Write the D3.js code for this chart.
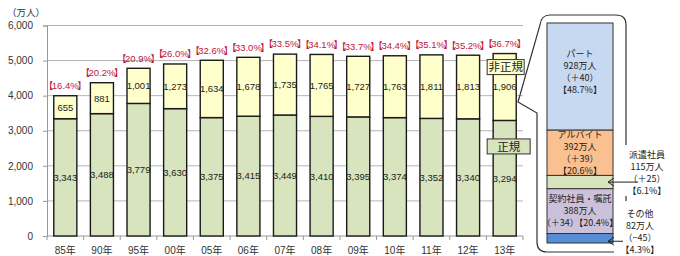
<!DOCTYPE html>
<html><head><meta charset="utf-8">
<script src="https://cdn.jsdelivr.net/npm/d3@7"></script>
<style>
body{margin:0;background:#fff;}
text{font-family:"Liberation Sans","Noto Sans CJK JP",sans-serif;}
.jp{font-family:"Noto Sans CJK JP",sans-serif;}
</style></head>
<body>
<script>
// ---- data ----
const years = ["85年","90年","95年","00年","05年","06年","07年","08年","09年","10年","11年","12年","13年"];
const regular = [3343,3488,3779,3630,3375,3415,3449,3410,3395,3374,3352,3340,3294];
const nonRegular = [655,881,1001,1273,1634,1678,1735,1765,1727,1763,1811,1813,1906];
const nonRegularShare = ["16.4%","20.2%","20.9%","26.0%","32.6%","33.0%","33.5%","34.1%","33.7%","34.4%","35.1%","35.2%","36.7%"];
const yTicks = [0,1000,2000,3000,4000,5000,6000];
const unitLabel = "（万人）";
const seriesNames = ["正規","非正規"];

const breakdownNames = ["パート","アルバイト","派遣社員","契約社員・嘱託","その他"];
const breakdownValues = [928,392,115,388,82];
const breakdownChange = ["＋40","＋39","＋25","＋34","−45"];
const breakdownShare = ["48.7%","20.6%","6.1%","20.4%","4.3%"];
const breakdownColors = ["#c6d9f1","#fac090","#d7e4bd","#ccc1da","#558ed5"];

const colReg = "#d7e4bd", colNon = "#ffffcc", colPct = "#c0143c";

const svg = d3.select("body").append("svg").attr("width",680).attr("height",256);

const x = d3.scaleBand().domain(years).range([47,523]).paddingInner(0.37).paddingOuter(0.185);
const y = d3.scaleLinear().domain([0,6000]).range([236,25.5]);

// gridlines
svg.append("g").selectAll("line").data(yTicks.filter(d=>d>0)).join("line")
  .attr("x1",47).attr("x2",523).attr("y1",d=>y(d)).attr("y2",d=>y(d))
  .attr("stroke","#b5b5b5").attr("stroke-width",1);

// y axis
const ya = svg.append("g").attr("transform","translate(47,0)")
  .call(d3.axisLeft(y).tickValues(yTicks).tickSize(4).tickPadding(10).tickFormat(d3.format(",")));
ya.select(".domain").attr("stroke","#999");
ya.selectAll(".tick line").attr("stroke","#999");
ya.selectAll("text").attr("font-size",10).attr("fill","#333").attr("font-family","Liberation Sans");

svg.append("text").attr("class","jp").attr("x",7).attr("y",16).attr("font-size",9.5).attr("fill","#333").text(unitLabel);

// x axis
svg.append("line").attr("x1",47).attr("x2",523).attr("y1",y(0)).attr("y2",y(0)).attr("stroke","#999");
svg.append("g").selectAll("line").data(d3.range(years.length+1)).join("line")
  .attr("x1",i=>47+i*x.step()).attr("x2",i=>47+i*x.step())
  .attr("y1",y(0)).attr("y2",y(0)+4).attr("stroke","#999");
svg.append("g").selectAll("text").data(years).join("text")
  .attr("x",d=>x(d)+x.bandwidth()/2).attr("y",254).attr("text-anchor","middle")
  .attr("font-size",10).attr("fill","#333").text(d=>d);

// bars
const data = years.map((yr,i)=>({yr,reg:regular[i],non:nonRegular[i],share:nonRegularShare[i]}));
const g = svg.append("g");
g.selectAll("rect.reg").data(data).join("rect").attr("class","reg")
  .attr("x",d=>x(d.yr)).attr("width",x.bandwidth())
  .attr("y",d=>y(d.reg)).attr("height",d=>y(0)-y(d.reg))
  .attr("fill",colReg).attr("stroke","#1a1a1a").attr("stroke-width",1.4);
g.selectAll("rect.non").data(data).join("rect").attr("class","non")
  .attr("x",d=>x(d.yr)).attr("width",x.bandwidth())
  .attr("y",d=>y(d.reg+d.non)).attr("height",d=>y(d.reg)-y(d.reg+d.non))
  .attr("fill",colNon).attr("stroke","#1a1a1a").attr("stroke-width",1.4);

const fmt = d3.format(",");
g.selectAll("text.rv").data(data).join("text").attr("class","rv")
  .attr("x",d=>x(d.yr)+x.bandwidth()/2).attr("y",d=>(y(0)+y(d.reg))/2).attr("dy","0.35em")
  .attr("text-anchor","middle").attr("font-size",9.5).attr("fill","#222").text(d=>fmt(d.reg));
g.selectAll("text.nv").data(data).join("text").attr("class","nv")
  .attr("x",d=>x(d.yr)+x.bandwidth()/2).attr("y",d=>(y(d.reg)+y(d.reg+d.non))/2).attr("dy","0.35em")
  .attr("text-anchor","middle").attr("font-size",9.5).attr("fill","#222").text(d=>fmt(d.non));
const pc = g.selectAll("text.pc").data(data).join("text").attr("class","pc")
  .attr("x",d=>x(d.yr)+x.bandwidth()/2).attr("y",d=>y(d.reg+d.non)-10).attr("dy","0.35em")
  .attr("text-anchor","middle").attr("font-size",9.5).attr("fill",colPct);
pc.append("tspan").text("【");
pc.append("tspan").attr("dx",-1.5).text(d=>d.share);
pc.append("tspan").attr("dx",-1.5).text("】");

// series label boxes on last bar
const last = data[data.length-1];
const lx = x(last.yr)-6;
function tagBox(label, top, w, fill){
  svg.append("rect").attr("x",lx).attr("y",top).attr("width",w).attr("height",15)
    .attr("fill",fill).attr("stroke","#333").attr("stroke-width",1);
  svg.append("text").attr("class","jp").attr("x",lx+w/2).attr("y",top+7.5).attr("dy","0.36em")
    .attr("text-anchor","middle").attr("font-size",11.5).attr("fill","#222").text(label);
}
tagBox(seriesNames[1], y(last.reg+last.non)+6, 37, colNon);
tagBox(seriesNames[0], y(last.reg)+18.5, 43, colReg);

// ---- breakdown panel ----
const px0 = 547, pw = 66;
const total = d3.sum(breakdownValues);
const pY = d3.scaleLinear().domain([0,total]).range([23,243]);
let cum = 0;
const segs = breakdownValues.map((v,i)=>{const s={i,v,start:cum,end:cum+v}; cum+=v; return s;});

// callout outline
svg.append("path").attr("fill","none").attr("stroke","#333").attr("stroke-width",1.2)
  .attr("d","M626,145 L626,25 Q626,15 616,15 L550,15 Q541,15 540,25 L518,102 L537,113 L537,242 Q537,252 547,252 L614,252");
svg.append("line").attr("x1",626).attr("x2",626).attr("y1",196).attr("y2",201).attr("stroke","#333").attr("stroke-width",1.2);

const pg = svg.append("g");
pg.selectAll("rect").data(segs).join("rect")
  .attr("x",px0).attr("width",pw).attr("y",d=>pY(d.start)).attr("height",d=>pY(d.end)-pY(d.start))
  .attr("fill",d=>breakdownColors[d.i]).attr("stroke","#333").attr("stroke-width",1);

const lh = 12;
segs.forEach(s=>{
  const i = s.i;
  let lines = [breakdownNames[i], breakdownValues[i]+"万人", "（"+breakdownChange[i]+"）", "【"+breakdownShare[i]+"】"];
  const mid = (pY(s.start)+pY(s.end))/2;
  let cx = px0+pw/2, cy = mid, inside = true;
  if (breakdownValues[i] < 200) { inside = false; }
  if (i === 0) cy = mid - 5;
  if (i === 3) lines = [lines[0], lines[1], lines[2]+lines[3]];
  if (!inside) {
    cx = i === 2 ? 647 : 640;
    cy = mid - (i === 2 ? 9 : 7);
    const ax0 = i === 2 ? 638 : 623, ax1 = px0+pw-5;
    const ay = i === 2 ? mid : mid+3;
    pg.append("line").attr("x1",ax0).attr("x2",ax1).attr("y1",ay).attr("y2",ay).attr("stroke","#222").attr("stroke-width",1);
    pg.append("path").attr("d",`M${ax1+6},${ay-4} L${ax1},${ay} L${ax1+6},${ay+4}`).attr("fill","none").attr("stroke","#222").attr("stroke-width",1);
  }
  const n = lines.length;
  pg.append("g").selectAll("text").data(lines).join("text").attr("class","jp")
    .attr("x",cx).attr("y",(d,k)=>cy+(k-(n-1)/2)*lh).attr("dy","0.36em")
    .attr("text-anchor","middle").attr("font-size",9).attr("fill","#222").text(d=>d);
});
</script>
</body></html>
